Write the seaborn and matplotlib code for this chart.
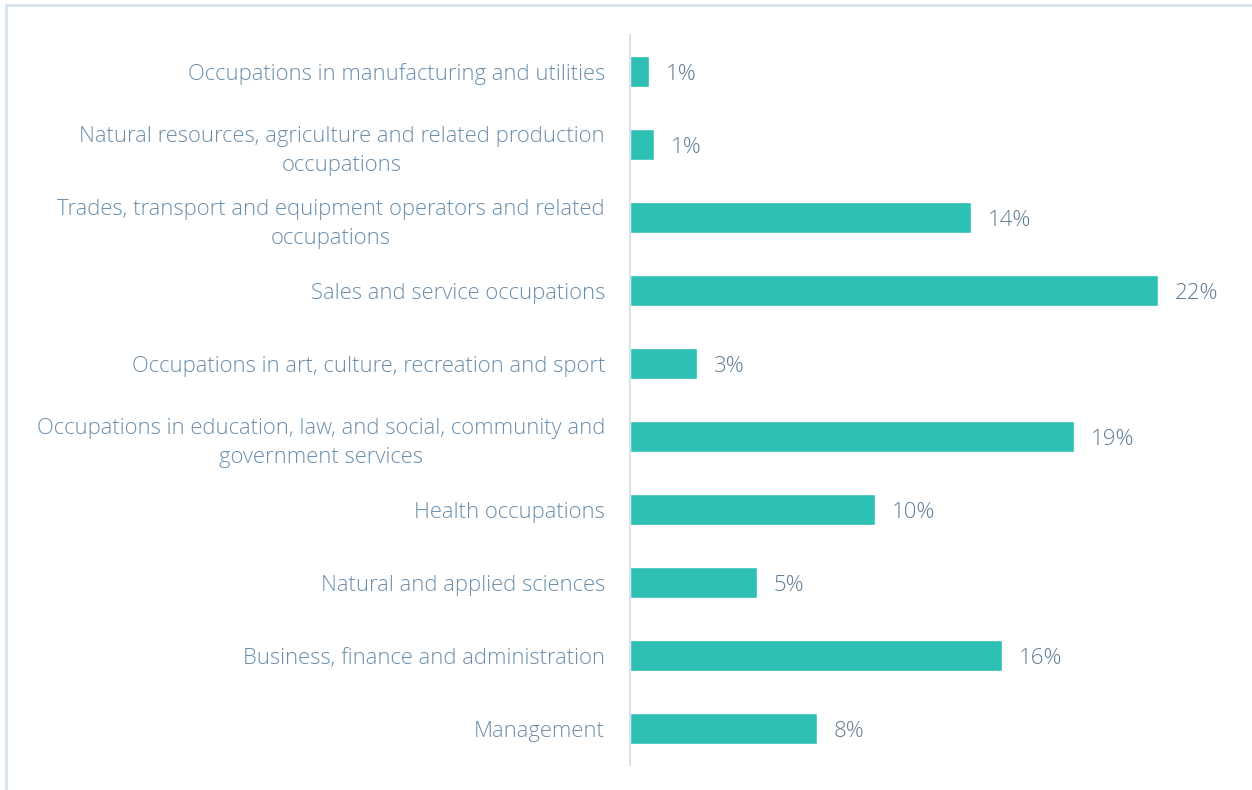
import matplotlib
matplotlib.use("Agg")
import matplotlib.pyplot as plt
import seaborn as sns
import pandas as pd
from matplotlib.patches import Rectangle

# Data (top to bottom)
categories = [
    "Occupations in manufacturing and utilities",
    "Natural resources, agriculture and related production\noccupations",
    "Trades, transport and equipment operators and related\noccupations",
    "Sales and service occupations",
    "Occupations in art, culture, recreation and sport",
    "Occupations in education, law, and social, community and\ngovernment services",
    "Health occupations",
    "Natural and applied sciences",
    "Business, finance and administration",
    "Management",
]
shares = [0.8, 1.0, 14.2, 22.0, 2.8, 18.5, 10.2, 5.3, 15.5, 7.8]
labels = ["1%", "1%", "14%", "22%", "3%", "19%", "10%", "5%", "16%", "8%"]

df = pd.DataFrame({"category": categories, "share": shares, "label": labels})

sns.set_style("white")
plt.rcParams["font.family"] = ["Open Sans", "DejaVu Sans"]

bar_color = "#2EBFB5"
text_color = "#6A8EAB"
value_color = "#5E7D93"

fig = plt.figure(figsize=(12.52, 7.9), dpi=100)
ax = fig.add_axes([0.5032, 0.0316, 0.4792, 0.9241])

sns.barplot(data=df, x="share", y="category", color=bar_color, width=0.42,
            saturation=1, ax=ax, orient="h")

ax.set_xlim(0, 25)
ax.set_ylim(9.5, -0.5)
ax.set_xlabel("")
ax.set_ylabel("")
ax.set_xticks([])

for i, (v, lab) in enumerate(zip(df["share"], df["label"])):
    ax.annotate(lab, (v, i), xytext=(12, -2), textcoords="offset points",
                va="center", ha="left", fontsize=16, color=value_color,
                fontweight="light")

ax.tick_params(axis="y", length=0, pad=18)
for t in ax.get_yticklabels():
    t.set_fontsize(15.8)
    t.set_color(text_color)
    t.set_fontweight("light")
    t.set_linespacing(1.5)
    t.set_multialignment("center")

for s in ["top", "right", "bottom"]:
    ax.spines[s].set_visible(False)
ax.spines["left"].set_color("#D6E2EC")
ax.spines["left"].set_linewidth(1.5)

# outer frame (top and left edges visible in the reference)
fig.patches.append(Rectangle((6 / 1252, -0.05), 1.2, 1 - 5 / 790 + 0.05,
                             transform=fig.transFigure, fill=False,
                             edgecolor="#D6E2EC", linewidth=2))

fig.savefig("out.png", dpi=100, facecolor="white")
